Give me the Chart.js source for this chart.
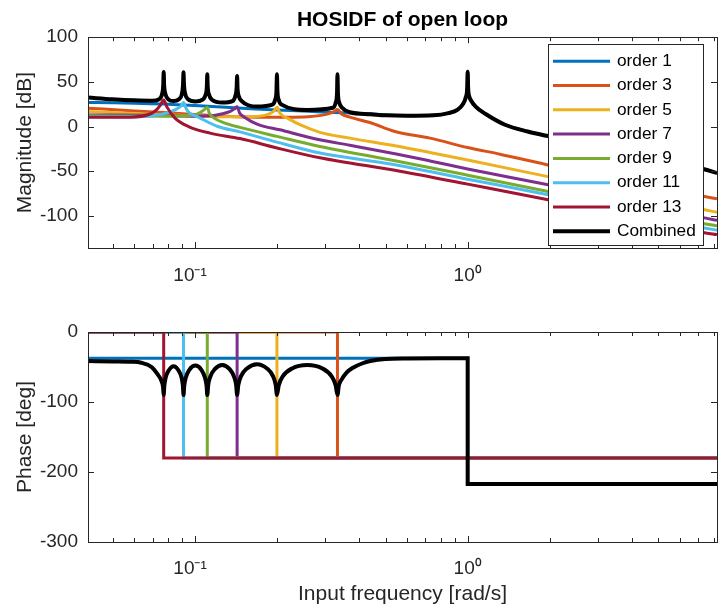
<!DOCTYPE html>
<html>
<head>
<meta charset="utf-8">
<script src="https://cdn.jsdelivr.net/npm/chart.js@4.4.1/dist/chart.umd.min.js"></script>
<style>
  body { margin: 0; background: #fff; }
  #wrap { position: relative; width: 718px; height: 610px; }
  #mag { position: absolute; left: 0; top: 0; }
  #phase { position: absolute; left: 0; top: 300px; }
</style>
</head>
<body>
<div id="wrap">
  <canvas id="mag" width="718" height="300"></canvas>
  <canvas id="phase" width="718" height="310"></canvas>
</div>
<script>
var FONT = '"Liberation Sans", Arial, sans-serif';
var AXIS = '#262626';

var freqMin = 0.0406, freqMax = 8.2;
var xTickValues = [0.05, 0.06, 0.07, 0.08, 0.09, 0.1, 0.2, 0.3, 0.4, 0.5, 0.6, 0.7, 0.8, 0.9, 1, 2, 3, 4, 5, 6, 7, 8];
var xTickLabels = ['', '', '', '', '', '10\u207B\u00B9\u2002', '', '', '', '', '', '', '', '', '10\u2070', '', '', '', '', '', '', ''];
var magTicks = [-100, -50, 0, 50, 100];
var phaseTicks = [-300, -200, -100, 0];

var names = ['order 1', 'order 3', 'order 5', 'order 7', 'order 9', 'order 11', 'order 13', 'Combined'];
var colors = ['#0072BD', '#D95319', '#EDB120', '#7E2F8E', '#77AC30', '#4DBEEE', '#A2142F', '#000000'];

// magnitude [dB]
var mag1F = [0.0406, 0.05, 0.06, 0.08, 0.1, 0.13, 0.16, 0.2, 0.26, 0.32, 0.38, 0.45, 0.5, 0.6, 0.75, 0.85, 0.92, 0.96, 0.985, 0.996, 1, 1.004, 1.015, 1.026, 1.07, 1.164, 1.37, 1.66, 1.95, 3.05, 4.66, 7.3, 8.2];
var mag1 = [27, 26.5, 26, 25, 23.5, 21.5, 20, 18.5, 17, 15.8, 15, 14, 12.8, 12, 12.5, 15, 19, 25, 33, 43, 61.4, 43, 33, 29.8, 22.3, 14, 2, -5.6, -10.4, -23, -35, -47.6, -52];

var mag3F = [0.0406, 0.06, 0.08, 0.1, 0.13, 0.17, 0.22, 0.26, 0.29, 0.31, 0.325, 0.3333, 0.345, 0.37, 0.438, 0.5415, 0.727, 1, 1.313, 1.95, 3.05, 4.66, 7.3, 8.2];
var mag3 = [20.5, 17.5, 15.5, 13.5, 11.5, 10.5, 10.5, 11, 12.5, 14.5, 17, 19, 14, 10.5, 4.5, -5.6, -13, -23.5, -31, -42.7, -54.5, -66, -78, -81];

var mag5F = [0.0406, 0.06, 0.08, 0.1, 0.13, 0.16, 0.18, 0.19, 0.196, 0.2, 0.205, 0.2228, 0.2427, 0.2873, 0.3702, 0.5415, 0.727, 1, 1.95, 3.05, 4.66, 7.3, 8.2];
var mag5 = [16.7, 14.5, 13, 12, 11, 11, 12.5, 15, 18, 21.5, 15, 8, 2, -6.5, -13, -21.5, -29, -37.5, -55.8, -68, -80, -93, -96];

var mag7F = [0.0406, 0.07, 0.1, 0.115, 0.125, 0.135, 0.14, 0.1429, 0.146, 0.152, 0.17, 0.205, 0.287, 0.3702, 0.5415, 0.727, 1, 1.95, 3.05, 4.66, 7.3, 8.2];
var mag7 = [13, 12.5, 11.5, 12, 14, 17, 20, 22, 15, 10.5, 2.5, -3.7, -14.8, -21, -30.5, -38.5, -47.5, -65, -77.5, -89, -102, -105];

var mag9F = [0.0406, 0.08, 0.095, 0.1, 0.105, 0.109, 0.1111, 0.113, 0.117, 0.129, 0.1464, 0.2, 0.2873, 0.5415, 1, 1.95, 3.05, 4.66, 7.3, 8.2];
var mag9 = [12, 11.5, 12, 13, 16, 19.5, 21.6, 15, 10, 3.8, -1, -11, -22.3, -38.3, -54.5, -72.5, -85, -96.5, -108.6, -111];

var mag11F = [0.0406, 0.06, 0.07, 0.0798, 0.085, 0.089, 0.0909, 0.093, 0.095, 0.103, 0.1214, 0.1464, 0.2, 0.2873, 0.5415, 1, 1.95, 3.05, 4.66, 7.3, 8.2];
var mag11 = [11, 11, 12, 15.6, 19, 23, 26.8, 20, 16, 10.5, 0, -6, -17.5, -29.7, -42.7, -59, -76, -88.5, -100, -113.4, -116];

var mag13F = [0.0406, 0.058, 0.0685, 0.072, 0.0748, 0.0769, 0.079, 0.0846, 0.0948, 0.1137, 0.1464, 0.2, 0.2873, 0.5645, 1, 1.95, 3.05, 4.66, 7.3, 8.2];
var mag13 = [10.5, 10.5, 14, 18, 24, 29.8, 22, 9.4, 0, -7.4, -13.5, -24, -35, -50, -64.5, -81.8, -94.5, -106, -118.6, -121];

var magCF = [0.0406, 0.05, 0.06, 0.07, 0.0738, 0.0758, 0.0766, 0.0769, 0.0772, 0.0781, 0.08, 0.0836,
  0.0874, 0.0896, 0.0905, 0.0909, 0.0913, 0.0923, 0.0945, 0.1005,
  0.1068, 0.1095, 0.1107, 0.1111, 0.1115, 0.1128, 0.1156, 0.126,
  0.1374, 0.1407, 0.1423, 0.1429, 0.1434, 0.145, 0.1486, 0.169,
  0.1923, 0.197, 0.1992, 0.2, 0.2008, 0.203, 0.208, 0.2582,
  0.3205, 0.3284, 0.332, 0.3333, 0.3347, 0.3383, 0.3467, 0.37, 0.44, 0.5, 0.6, 0.75, 0.85, 0.92, 0.96, 0.985, 0.996,
  1, 1.004, 1.015, 1.026, 1.07, 1.164, 1.37, 1.66, 1.95, 3.05, 4.66, 7.3, 8.2];
var magC = [32.4, 30.5, 29.3, 28.8, 30.5, 36, 46, 61, 46, 36, 30.5, 28.5,
  30.5, 36, 46, 60.7, 46, 36, 30.5, 28,
  30, 35.5, 45, 58.5, 45, 35.5, 30, 26.8,
  28.5, 34, 43, 56.6, 43, 34, 28.5, 22.3,
  24.5, 30, 40, 58.5, 40, 30, 24.5, 18.6,
  21, 27, 37, 58.5, 37, 27, 21, 16, 13.8, 12.5, 12, 12.5, 15, 19, 25, 33, 43,
  61.4, 43, 33, 29.8, 22.3, 14, 2, -5.6, -10.4, -23, -35, -47.6, -52];

// phase [deg]
var ph1F = [0.0406, 1, 1, 8.2];
var ph1 = [-37.6, -37.6, -217, -217];
var stepFreqs = [0.3333, 0.2, 0.1429, 0.1111, 0.0909, 0.0769]; // orders 3..13
var stepPhase = [0, 0, -180, -180];

var phCF = [0.0406, 0.05, 0.058, 0.0637, 0.0694, 0.0732, 0.0755, 0.0765, 0.0769,
  0.07731, 0.0782, 0.0802, 0.0836, 0.0872, 0.0894, 0.09045, 0.0909,
  0.09146, 0.0927, 0.0955, 0.1005, 0.1057, 0.1089, 0.11045, 0.1111,
  0.11195, 0.1139, 0.1183, 0.126, 0.1342, 0.1393, 0.14177, 0.1429,
  0.14431, 0.1477, 0.1553, 0.169, 0.1838, 0.1934, 0.19799, 0.2,
  0.2031, 0.2104, 0.2272, 0.2582, 0.2934, 0.3168, 0.3282, 0.3333,
  0.337, 0.345, 0.36, 0.38, 0.41, 0.44, 0.5, 0.6, 0.8, 1, 1, 8.2];
var phC = [-41.5, -42, -42.5, -44, -50, -61, -70, -79, -90,
  -77, -65, -55, -49, -55, -65, -77, -90,
  -77, -65, -54, -48, -54, -65, -77, -90,
  -76, -64, -53, -47, -53, -64, -76, -90,
  -76, -63, -52, -46, -52, -63, -76, -90,
  -76, -63, -52, -47, -52, -63, -76, -90,
  -77, -68, -58, -51, -45, -41.4, -38.5, -37.8, -37.6, -37.6, -217, -217];

function pts(fs, vs) {
  return fs.map(function (f, i) { return {x: f, y: vs[i]}; });
}

function makeSets(list) {
  return list.map(function (d, i) {
    return {
      label: names[i],
      data: d,
      borderColor: colors[i],
      backgroundColor: colors[i],
      borderWidth: i == 7 ? 4 : 3,
      pointRadius: 0,
      fill: false,
      cubicInterpolationMode: 'monotone',
      order: 7 - i
    };
  });
}

var magSets = makeSets([
  pts(mag1F, mag1), pts(mag3F, mag3), pts(mag5F, mag5), pts(mag7F, mag7),
  pts(mag9F, mag9), pts(mag11F, mag11), pts(mag13F, mag13), pts(magCF, magC)
]);

var phaseList = [pts(ph1F, ph1)];
stepFreqs.forEach(function (f) {
  phaseList.push(pts([freqMin, f, f, freqMax], stepPhase));
});
phaseList.push(pts(phCF, phC));
var phaseSets = makeSets(phaseList);

// box + inward ticks, MATLAB style
var frame = {
  id: 'frame',
  afterDatasetsDraw: function (chart) {
    var ctx = chart.ctx, a = chart.chartArea, x = chart.scales.x, y = chart.scales.y;
    ctx.save();
    ctx.strokeStyle = AXIS;
    ctx.lineWidth = 1;
    ctx.beginPath();
    xTickValues.forEach(function (v, i) {
      var px = Math.round(x.getPixelForValue(v)) + 0.5;
      var len = xTickLabels[i] ? 6 : 4;
      ctx.moveTo(px, a.bottom); ctx.lineTo(px, a.bottom - len);
      ctx.moveTo(px, a.top); ctx.lineTo(px, a.top + len);
    });
    y.ticks.forEach(function (t) {
      var py = Math.round(y.getPixelForValue(t.value)) + 0.5;
      ctx.moveTo(a.left, py); ctx.lineTo(a.left + 6, py);
      ctx.moveTo(a.right, py); ctx.lineTo(a.right - 6, py);
    });
    ctx.stroke();
    ctx.strokeRect(Math.round(a.left) + 0.5, Math.round(a.top) + 0.5,
      Math.round(a.right - a.left), Math.round(a.bottom - a.top));
    ctx.restore();
  }
};

var legendBox = {
  id: 'legendBox',
  afterDraw: function (chart) {
    var ctx = chart.ctx, a = chart.chartArea;
    var w = 155, h = 201;
    var left = a.right - 14 - w, top = a.top + 7;
    ctx.save();
    ctx.fillStyle = '#fff';
    ctx.fillRect(left, top, w, h);
    ctx.strokeStyle = AXIS;
    ctx.lineWidth = 1;
    ctx.strokeRect(Math.round(left) + 0.5, Math.round(top) + 0.5, w, h);
    ctx.font = '17.3px ' + FONT;
    ctx.textBaseline = 'middle';
    chart.data.datasets.forEach(function (ds, i) {
      var yy = top + 17 + i * 24.3;
      ctx.strokeStyle = ds.borderColor;
      ctx.lineWidth = ds.borderWidth;
      ctx.beginPath();
      ctx.moveTo(left + 5, yy);
      ctx.lineTo(left + 62, yy);
      ctx.stroke();
      ctx.fillStyle = '#000';
      ctx.fillText(ds.label, left + 69, yy);
    });
    ctx.restore();
  }
};

function xScale(xHeight, pad, titleText) {
  return {
    type: 'logarithmic',
    min: freqMin,
    max: freqMax,
    grid: {display: false, drawTicks: false},
    border: {display: false},
    afterBuildTicks: function (s) { s.ticks = xTickValues.map(function (v) { return {value: v}; }); },
    afterFit: function (s) { s.height = xHeight; s.paddingLeft = 0; s.paddingRight = 0; },
    ticks: {
      autoSkip: false, maxRotation: 0, padding: pad, color: AXIS,
      font: {family: FONT, size: 19},
      callback: function (v, i) { return xTickLabels[i]; }
    },
    title: {
      display: !!titleText, text: titleText || '', color: AXIS,
      font: {family: FONT, size: 21}, padding: {top: 0, bottom: 3}
    }
  };
}

function yScale(lo, hi, tickList, titleText) {
  return {
    min: lo,
    max: hi,
    grid: {display: false, drawTicks: false},
    border: {display: false},
    afterBuildTicks: function (s) { s.ticks = tickList.map(function (v) { return {value: v}; }); },
    afterFit: function (s) { s.width = 88; },
    ticks: {padding: 10, color: AXIS, font: {family: FONT, size: 19}},
    title: {
      display: true, text: titleText, color: AXIS,
      font: {family: FONT, size: 21}, padding: {top: 13, bottom: 0}
    }
  };
}

new Chart(document.getElementById('mag'), {
  type: 'line',
  data: {datasets: magSets},
  options: {
    responsive: false, animation: false, events: [],
    layout: {padding: {top: 0, right: 1, bottom: 0, left: 0}},
    scales: {
      x: xScale(52, 16),
      y: yScale(-136, 100, magTicks, 'Magnitude [dB]')
    },
    plugins: {
      legend: {display: false},
      tooltip: {enabled: false},
      title: {
        display: true, text: 'HOSIDF of open loop', color: '#000', fullSize: false,
        font: {family: FONT, size: 21, weight: 'bold'}, padding: {top: 8, bottom: 4}
      }
    }
  },
  plugins: [frame, legendBox]
});

new Chart(document.getElementById('phase'), {
  type: 'line',
  data: {datasets: phaseSets},
  options: {
    responsive: false, animation: false, events: [],
    layout: {padding: {top: 32, right: 1, bottom: 0, left: 0}},
    scales: {
      x: xScale(68, 15, 'Input frequency [rad/s]'),
      y: yScale(-300, 0, phaseTicks, 'Phase [deg]')
    },
    plugins: {legend: {display: false}, tooltip: {enabled: false}}
  },
  plugins: [frame]
});
</script>
</body>
</html>
